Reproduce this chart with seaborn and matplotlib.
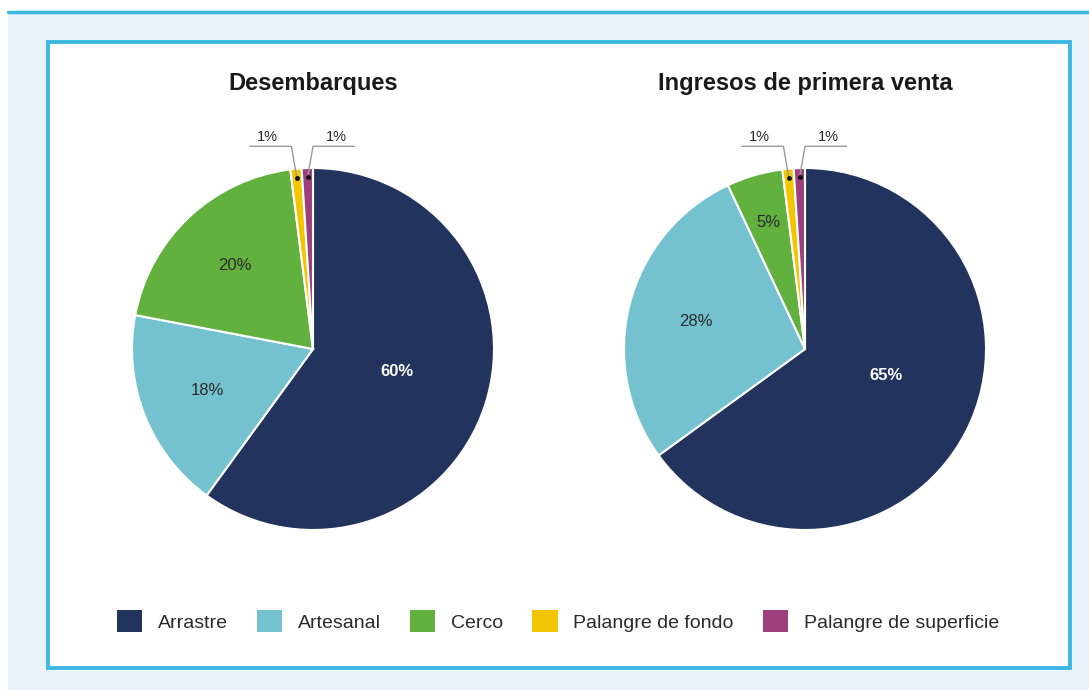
import numpy as np
import matplotlib
matplotlib.use("Agg")
import matplotlib.pyplot as plt
import seaborn as sns
from matplotlib.patches import Rectangle, Patch

# datos
artes = ["Arrastre", "Artesanal", "Cerco", "Palangre de fondo", "Palangre de superficie"]
desembarques = [60, 18, 20, 1, 1]
ingresos = [65, 28, 5, 1, 1]
titulos = ["Desembarques", "Ingresos de primera venta"]
colores = ["#22335e", "#74c2cf", "#62b13f", "#f2c500", "#9c3f7c"]

sns.set_theme(style="white")
plt.rcParams["font.family"] = ["Liberation Sans", "DejaVu Sans"]

W, H = 1089, 690
fig = plt.figure(figsize=(W / 100, H / 100), dpi=100, facecolor="white")

def fx(x):
    return x / W

def fy(y):
    return 1 - y / H

# fondo celeste y marco
fig.patches.append(Rectangle((fx(8), 0), 1 - fx(8), fy(12), transform=fig.transFigure,
                             facecolor="#eaf2fa", edgecolor="none", zorder=-3))
fig.add_artist(plt.Line2D([fx(8), 1], [fy(12), fy(12)], transform=fig.transFigure,
                          color="#3db8e2", lw=2.5, zorder=-2))
fig.patches.append(Rectangle((fx(47.5), fy(667.5)), fx(1070) - fx(47.5), fy(41.5) - fy(667.5),
                             transform=fig.transFigure, facecolor="white",
                             edgecolor="#3db8e2", lw=2.8, zorder=-1))

R = 181
centros = [313, 805]
datos = [desembarques, ingresos]
# distancia y giro (grados) de cada etiqueta respecto al centro de su porcion
dist_pct = [[0.48, 0.63, 0.63], [0.47, 0.62, 0.73]]
giro_pct = [[3, 0, 0], [9, 0, 0]]

for cx, vals, titulo, dists, giros in zip(centros, datos, titulos, dist_pct, giro_pct):
    ax = fig.add_axes([fx(cx - R), fy(349 + R), 2 * R / W, 2 * R / H])
    ax.set_zorder(2)
    ax.patch.set_visible(False)
    wedges, _ = ax.pie(vals, colors=colores, startangle=90, counterclock=False,
                       wedgeprops=dict(edgecolor="white", linewidth=1.5))
    ax.set_xlim(-1, 1)
    ax.set_ylim(-1, 1)
    ax.set_aspect("equal")
    ax.axis("off")
    ax.text(0, 1.465, titulo, ha="center", va="center", fontsize=17,
            fontweight="bold", color="#1a1a1a")
    for i, w in enumerate(wedges):
        ang = np.deg2rad((w.theta1 + w.theta2) / 2)
        if i < 3:
            d = dists[i]
            a = ang + np.deg2rad(giros[i])
            col = "white" if i == 0 else "#2a2a2a"
            ax.text(d * np.cos(a), d * np.sin(a), f"{vals[i]}%", ha="center", va="center",
                    fontsize=12, color=col, fontweight="bold" if i == 0 else "normal")
        else:
            lado = -1 if i == 3 else 1
            x0, y0 = 0.95 * np.cos(ang), 0.95 * np.sin(ang)
            xe = x0 + lado * 0.03
            ye = 1.12
            ax.plot([x0, xe, xe + lado * 0.23], [y0, ye, ye], color="#9a9a9a", lw=1,
                    clip_on=False)
            ax.plot([x0], [y0], "o", color="#111111", ms=2.5, clip_on=False)
            ax.text(xe + lado * 0.13, 1.17, f"{vals[i]}%", ha="center", va="center",
                    fontsize=10.5, color="#2a2a2a")

handles = [Patch(facecolor=c, edgecolor="none") for c in colores]
leg = fig.legend(handles, artes, loc="center", bbox_to_anchor=(fx(558), fy(621)), ncol=5,
                 frameon=False, fontsize=14, handlelength=1.3, handleheight=1.3,
                 handletextpad=0.8, columnspacing=1.5, labelcolor="#2a2a2a")
leg.set_zorder(3)

fig.savefig("out.png", dpi=100, facecolor=fig.get_facecolor())
